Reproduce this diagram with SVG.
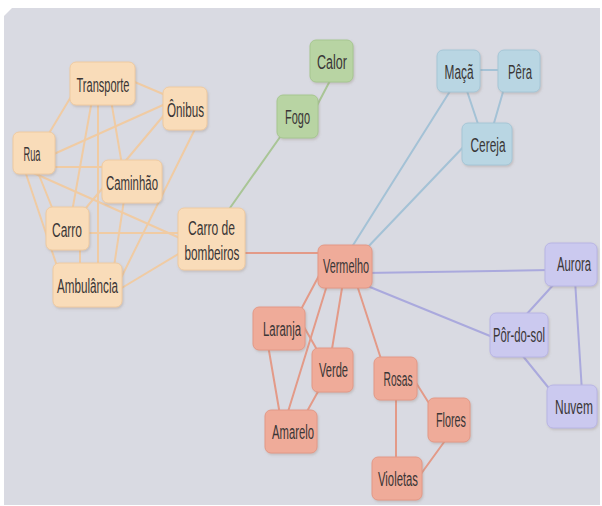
<svg xmlns="http://www.w3.org/2000/svg" width="602" height="506" viewBox="0 0 602 506">
<style>
.bg{fill:#d9dae2}
.n rect{rx:6;ry:6;stroke-width:1;filter:url(#sh)}
.o rect{fill:#f9dcb9;stroke:#efcaa0}
.g rect{fill:#b8d4a3;stroke:#a6c690}
.b rect{fill:#b9d6e3;stroke:#a5c6d6}
.r rect{fill:#efab99;stroke:#e39886}
.p rect{fill:#cbc9ef;stroke:#b8b5e4}
.n text{font-family:"Liberation Sans","DejaVu Sans",sans-serif;font-size:21px;fill:#3a3636;text-anchor:middle}
#edges line{stroke-width:2;stroke-linecap:round;fill:none}
.eo{stroke:#f0cba3}
.eg{stroke:#a9c596}
.eb{stroke:#a4c2d6}
.er{stroke:#e39a88}
.ep{stroke:#aaa9dd}
</style>
<defs>
<filter id="sh" x="-20%" y="-20%" width="140%" height="150%">
<feDropShadow dx="1" dy="1.5" stdDeviation="1" flood-color="#8a7a70" flood-opacity="0.3"/>
</filter>
</defs>
<rect width="602" height="506" fill="#ffffff"/>
<polygon class="bg" points="12,8 600,8 600,505 4,505 4,16"/>
<g id="edges">
<line class="eo" x1="130" y1="80" x2="170" y2="97"/>
<line class="eo" x1="72" y1="95" x2="45" y2="140"/>
<line class="eo" x1="111" y1="100" x2="122" y2="165"/>
<line class="eo" x1="92" y1="100" x2="72" y2="212"/>
<line class="eo" x1="98" y1="100" x2="98" y2="268"/>
<line class="eo" x1="172" y1="101" x2="45" y2="158"/>
<line class="eo" x1="170" y1="108" x2="80" y2="215"/>
<line class="eo" x1="197" y1="125" x2="115" y2="290"/>
<line class="eo" x1="45" y1="167" x2="110" y2="167"/>
<line class="eo" x1="35" y1="165" x2="55" y2="215"/>
<line class="eo" x1="23" y1="165" x2="60" y2="275"/>
<line class="eo" x1="20" y1="167" x2="200" y2="247"/>
<line class="eo" x1="127" y1="180" x2="112" y2="280"/>
<line class="eo" x1="80" y1="233" x2="190" y2="233"/>
<line class="eo" x1="80" y1="240" x2="80" y2="270"/>
<line class="eo" x1="190" y1="247" x2="110" y2="295"/>
<line class="eg" x1="333" y1="75" x2="312" y2="115"/>
<line class="eg" x1="285" y1="130" x2="225" y2="215"/>
<line class="eb" x1="470" y1="70" x2="510" y2="70"/>
<line class="eb" x1="465" y1="85" x2="480" y2="130"/>
<line class="eb" x1="505" y1="85" x2="492" y2="130"/>
<line class="eb" x1="452" y1="88" x2="350" y2="250"/>
<line class="eb" x1="470" y1="140" x2="365" y2="250"/>
<line class="er" x1="240" y1="253" x2="325" y2="253"/>
<line class="er" x1="322" y1="270" x2="298" y2="315"/>
<line class="er" x1="328" y1="282" x2="287" y2="415"/>
<line class="er" x1="343" y1="282" x2="331" y2="355"/>
<line class="er" x1="356" y1="282" x2="382" y2="362"/>
<line class="er" x1="300" y1="320" x2="320" y2="355"/>
<line class="er" x1="268" y1="345" x2="280" y2="415"/>
<line class="er" x1="320" y1="388" x2="305" y2="415"/>
<line class="er" x1="413" y1="378" x2="432" y2="408"/>
<line class="er" x1="396" y1="395" x2="396" y2="462"/>
<line class="er" x1="447" y1="438" x2="418" y2="478"/>
<line class="ep" x1="365" y1="273" x2="550" y2="270"/>
<line class="ep" x1="365" y1="285" x2="495" y2="338"/>
<line class="ep" x1="555" y1="283" x2="525" y2="316"/>
<line class="ep" x1="575" y1="280" x2="582" y2="392"/>
<line class="ep" x1="518" y1="350" x2="552" y2="392"/>
</g>
<g id="n-transporte" class="n o"><rect x="70" y="62" width="65" height="43"/><text transform="translate(103,92) scale(0.55,1)" textLength="96.4" lengthAdjust="spacingAndGlyphs">Transporte</text></g>
<g id="n-onibus" class="n o"><rect x="163" y="87" width="44" height="43"/><text transform="translate(185.5,117) scale(0.55,1)" textLength="67.3" lengthAdjust="spacingAndGlyphs">Ônibus</text></g>
<g id="n-rua" class="n o"><rect x="13" y="132" width="42" height="42"/><text transform="translate(32,161) scale(0.55,1)" textLength="30.9" lengthAdjust="spacingAndGlyphs">Rua</text></g>
<g id="n-caminhao" class="n o"><rect x="102" y="160" width="60" height="43"/><text transform="translate(132,190) scale(0.55,1)" textLength="94.5" lengthAdjust="spacingAndGlyphs">Caminhão</text></g>
<g id="n-carro" class="n o"><rect x="46" y="207" width="43" height="43"/><text transform="translate(67,237) scale(0.55,1)" textLength="54.5" lengthAdjust="spacingAndGlyphs">Carro</text></g>
<g id="n-ambulancia" class="n o"><rect x="53" y="263" width="69" height="44"/><text transform="translate(87.5,293) scale(0.55,1)" textLength="110.9" lengthAdjust="spacingAndGlyphs">Ambulância</text></g>
<g id="n-bombeiros" class="n o"><rect x="178" y="208" width="67" height="62"/><text transform="translate(211.5,235) scale(0.55,1)" textLength="85.5" lengthAdjust="spacingAndGlyphs">Carro de</text><text transform="translate(212,260) scale(0.55,1)" textLength="100" lengthAdjust="spacingAndGlyphs">bombeiros</text></g>
<g id="n-calor" class="n g"><rect x="310" y="40" width="43" height="42"/><text transform="translate(332,69) scale(0.55,1)" textLength="54.5" lengthAdjust="spacingAndGlyphs">Calor</text></g>
<g id="n-fogo" class="n g"><rect x="277" y="95" width="41" height="43"/><text transform="translate(297.5,124) scale(0.55,1)" textLength="45.5" lengthAdjust="spacingAndGlyphs">Fogo</text></g>
<g id="n-maca" class="n b"><rect x="437" y="50" width="43" height="42"/><text transform="translate(459,79) scale(0.55,1)" textLength="52.7" lengthAdjust="spacingAndGlyphs">Maçã</text></g>
<g id="n-pera" class="n b"><rect x="498" y="50" width="42" height="42"/><text transform="translate(520,79) scale(0.55,1)" textLength="43.6" lengthAdjust="spacingAndGlyphs">Pêra</text></g>
<g id="n-cereja" class="n b"><rect x="462" y="123" width="50" height="42"/><text transform="translate(488,152) scale(0.55,1)" textLength="63.6" lengthAdjust="spacingAndGlyphs">Cereja</text></g>
<g id="n-vermelho" class="n r"><rect x="318" y="245" width="54" height="43"/><text transform="translate(346,273) scale(0.55,1)" textLength="83.6" lengthAdjust="spacingAndGlyphs">Vermelho</text></g>
<g id="n-aurora" class="n p"><rect x="545" y="243" width="52" height="43"/><text transform="translate(574,271) scale(0.55,1)" textLength="61.8" lengthAdjust="spacingAndGlyphs">Aurora</text></g>
<g id="n-laranja" class="n r"><rect x="253" y="307" width="52" height="43"/><text transform="translate(282,336) scale(0.55,1)" textLength="69.1" lengthAdjust="spacingAndGlyphs">Laranja</text></g>
<g id="n-pordosol" class="n p"><rect x="490" y="313" width="58" height="44"/><text transform="translate(519,342) scale(0.55,1)" textLength="94.5" lengthAdjust="spacingAndGlyphs">Pôr-do-sol</text></g>
<g id="n-verde" class="n r"><rect x="312" y="348" width="41" height="44"/><text transform="translate(333.5,377) scale(0.55,1)" textLength="52.7" lengthAdjust="spacingAndGlyphs">Verde</text></g>
<g id="n-rosas" class="n r"><rect x="374" y="357" width="43" height="43"/><text transform="translate(398,386) scale(0.55,1)" textLength="52.7" lengthAdjust="spacingAndGlyphs">Rosas</text></g>
<g id="n-nuvem" class="n p"><rect x="547" y="385" width="50" height="43"/><text transform="translate(574,414) scale(0.55,1)" textLength="69.1" lengthAdjust="spacingAndGlyphs">Nuvem</text></g>
<g id="n-flores" class="n r"><rect x="428" y="398" width="42" height="44"/><text transform="translate(451,427) scale(0.55,1)" textLength="54.5" lengthAdjust="spacingAndGlyphs">Flores</text></g>
<g id="n-amarelo" class="n r"><rect x="265" y="410" width="52" height="43"/><text transform="translate(293,439) scale(0.55,1)" textLength="76.4" lengthAdjust="spacingAndGlyphs">Amarelo</text></g>
<g id="n-violetas" class="n r"><rect x="372" y="457" width="50" height="43"/><text transform="translate(398,486) scale(0.55,1)" textLength="72.7" lengthAdjust="spacingAndGlyphs">Violetas</text></g>
</svg>
